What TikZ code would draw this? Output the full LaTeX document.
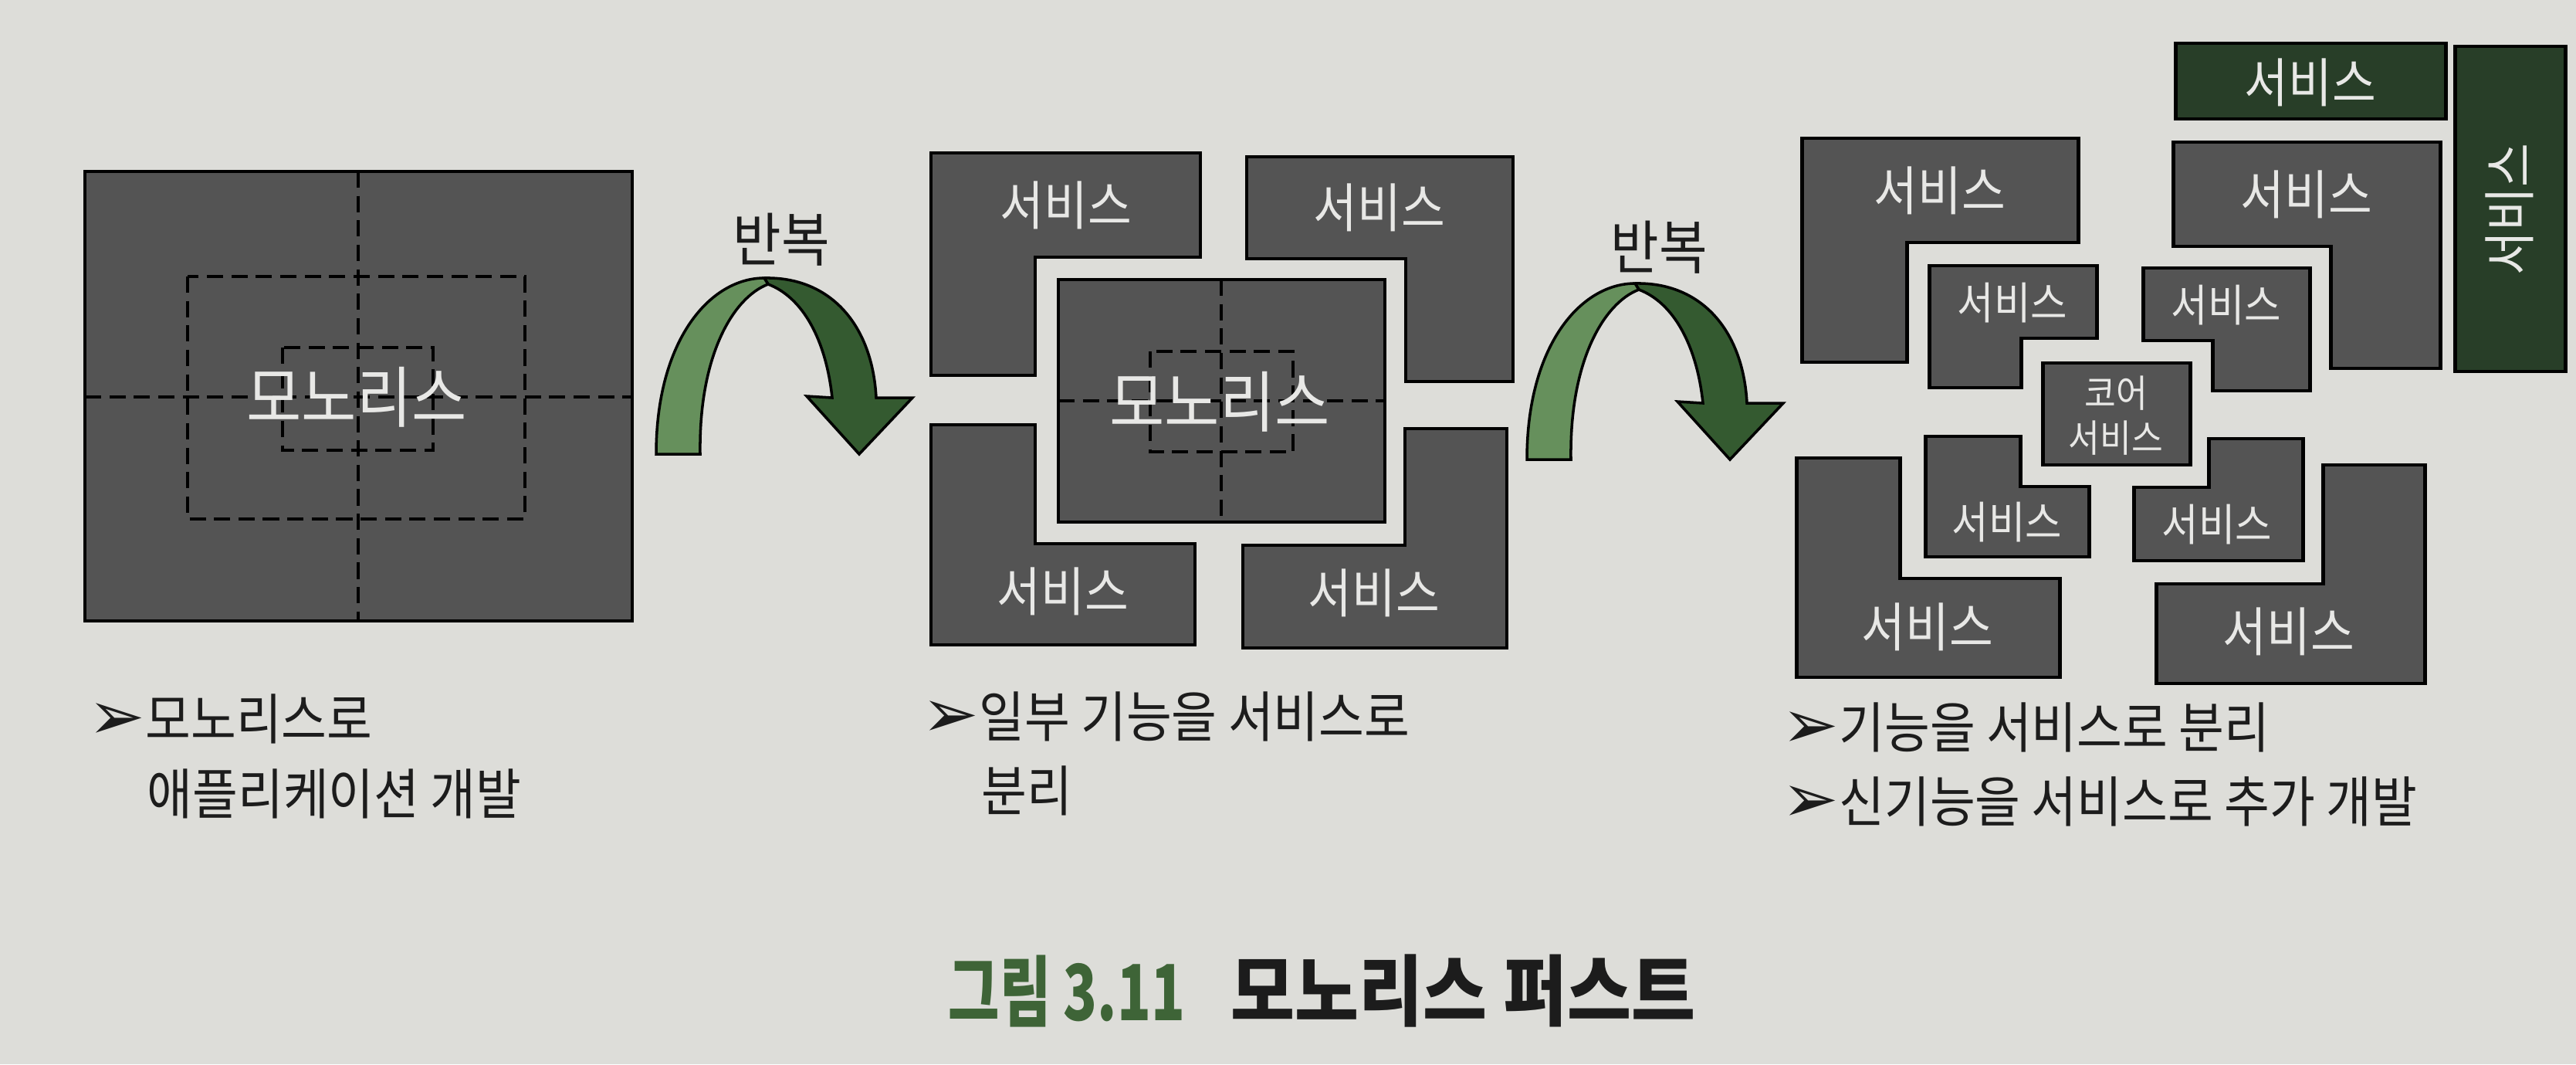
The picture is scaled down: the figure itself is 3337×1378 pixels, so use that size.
\documentclass[tikz,border=0pt]{standalone}
\usepackage{fontspec}
\setmainfont{Noto Sans CJK KR}[FakeStretch=0.9]
\newfontfamily\numfont{Noto Sans CJK KR}[FakeStretch=0.72]
\newfontfamily\symfont{DejaVu Sans}
\usepackage{tikz}

\definecolor{paper}{RGB}{221,221,217}
\definecolor{boxgray}{RGB}{84,84,84}
\definecolor{boxgreen}{RGB}{40,62,40}
\definecolor{boxtext}{RGB}{232,232,230}
\definecolor{arwlight}{RGB}{102,144,92}
\definecolor{arwdark}{RGB}{52,90,48}
\definecolor{capgreen}{RGB}{62,100,55}
\definecolor{ink}{RGB}{28,28,28}

\newcommand{\bul}{{\symfont\fontsize{25}{25}\selectfont ➢}}
\newcommand{\repeatarrow}[2]{%
\begin{scope}[shift={(#1,#2)}]
\filldraw[fill=arwdark,line width=1pt] (990,360) .. controls (1075,358) and (1130,420) .. (1135,515)
  -- (1182,515) -- (1113,588) -- (1045,513) -- (1078,515)
  .. controls (1070,440) and (1040,385) .. (995,368) -- cycle;
\filldraw[fill=arwlight,line width=1pt] (850,588) .. controls (850,440) and (920,360) .. (990,360)
  -- (995,368) .. controls (950,385) and (905,460) .. (907,588) -- cycle;
\end{scope}}

\tikzset{
  box/.style={draw=black,line width=1.4pt,fill=boxgray},
  gbox/.style={draw=black,line width=1.4pt,fill=boxgreen},
  cut/.style={draw=black,line width=1pt,dash pattern=on 6pt off 3pt},
  mono/.style={text=boxtext,inner sep=0pt,font=\fontsize{24.5}{28}\selectfont},
  svc/.style={text=boxtext,inner sep=0pt,font=\fontsize{19.5}{23}\selectfont},
  svcsmall/.style={text=boxtext,inner sep=0pt,font=\fontsize{16.3}{19}\selectfont},
  capt/.style={anchor=west,inner sep=0pt,text=ink,font=\fontsize{20.2}{24}\selectfont},
  reptext/.style={inner sep=0pt,text=ink,font=\fontsize{21.5}{25}\selectfont}
}

\begin{document}
\begin{tikzpicture}[x=0.01cm,y=-0.01cm]
\fill[paper] (0,0) rectangle (3337,1378);
\useasboundingbox (0,0) rectangle (3337,1378);

%monolith
\draw[box] (110,222) rectangle (819,804);
\draw[cut] (464,222) -- (464,804);
\draw[cut] (110,514) -- (819,514);
\draw[cut] (243,358) rectangle (680,672);
\draw[cut] (366,450) rectangle (561,583);
\node[mono] (mono1) at (462,514) {모노리스};
\node[capt] (cap1a) at (114,931) {\bul 모노리스로};
\node[capt] (cap1b) at (190,1028) {애플리케이션 개발};

%first iteration
\repeatarrow{0}{0}
\node[reptext] (rep1) at (1012,310) {반복};

%some services split off
\draw[box] (1206,198) -- (1555,198) -- (1555,333) -- (1341,333) -- (1341,486) -- (1206,486) -- cycle;
\draw[box] (1615,203) -- (1960,203) -- (1960,494) -- (1821,494) -- (1821,335) -- (1615,335) -- cycle;
\draw[box] (1206,550) -- (1341,550) -- (1341,704) -- (1548,704) -- (1548,835) -- (1206,835) -- cycle;
\draw[box] (1610,706) -- (1820,706) -- (1820,555) -- (1952,555) -- (1952,839) -- (1610,839) -- cycle;
\draw[box] (1371,362) rectangle (1794,676);
\draw[cut] (1582,362) -- (1582,676);
\draw[cut] (1371,519) -- (1794,519);
\draw[cut] (1490,455) rectangle (1675,585);
\node[svc] (svc2a) at (1381,266) {서비스};
\node[svc] (svc2b) at (1787,269) {서비스};
\node[svc] (svc2c) at (1377,766) {서비스};
\node[svc] (svc2d) at (1780,768) {서비스};
\node[mono] (mono2) at (1580,520) {모노리스};
\node[capt] (cap2a) at (1194,928) {\bul 일부 기능을 서비스로};
\node[capt] (cap2b) at (1271,1024) {분리};

%second iteration
\repeatarrow{1128}{7}
\node[reptext] (rep2) at (2149,320) {반복};

%services only
\draw[gbox] (2818,56) rectangle (3168,154);
\draw[gbox] (3180,60) rectangle (3323,481);
\draw[box] (2334,179) -- (2692,179) -- (2692,314) -- (2470,314) -- (2470,469) -- (2334,469) -- cycle;
\draw[box] (2815,184) -- (3161,184) -- (3161,477) -- (3019,477) -- (3019,319) -- (2815,319) -- cycle;
\draw[box] (2327,593) -- (2461,593) -- (2461,749) -- (2668,749) -- (2668,877) -- (2327,877) -- cycle;
\draw[box] (2793,756) -- (3009,756) -- (3009,602) -- (3141,602) -- (3141,885) -- (2793,885) -- cycle;
\draw[box] (2499,344) -- (2716,344) -- (2716,438) -- (2618,438) -- (2618,502) -- (2499,502) -- cycle;
\draw[box] (2776,347) -- (2992,347) -- (2992,506) -- (2866,506) -- (2866,441) -- (2776,441) -- cycle;
\draw[box] (2494,565) -- (2617,565) -- (2617,630) -- (2706,630) -- (2706,721) -- (2494,721) -- cycle;
\draw[box] (2764,631) -- (2861,631) -- (2861,568) -- (2983,568) -- (2983,726) -- (2764,726) -- cycle;
\draw[box] (2646,470) rectangle (2837,602);
\node[svc] (svc3new) at (2993,107) {서비스};
\node[svc,rotate=90] (svc3side) at (3251,271) {서비스};
\node[svc] (svc3a) at (2513,247) {서비스};
\node[svc] (svc3b) at (2988,252) {서비스};
\node[svc] (svc3c) at (2497,812) {서비스};
\node[svc] (svc3d) at (2965,818) {서비스};
\node[svcsmall] (svc3e) at (2607,392) {서비스};
\node[svcsmall] (svc3f) at (2884,395) {서비스};
\node[svcsmall] (svc3g) at (2600,676) {서비스};
\node[svcsmall] (svc3h) at (2872,679) {서비스};
\node[svcsmall,align=center,font=\fontsize{14}{16.5}\selectfont] (core) at (2741,538) {코어\\서비스};
\node[capt] (cap3a) at (2308,942) {\bul 기능을 서비스로 분리};
\node[capt] (cap3b) at (2308,1038) {\bul 신기능을 서비스로 추가 개발};

%figure caption
\node[anchor=west,inner sep=0pt,text=capgreen,font=\numfont\fontsize{28.5}{32}\selectfont\bfseries] (fignum) at (1228,1283) {그림 3.11};
\node[anchor=west,inner sep=0pt,text=ink,font=\fontsize{28.5}{32}\selectfont\bfseries] (figtitle) at (1594,1283) {모노리스 퍼스트};
\end{tikzpicture}
\end{document}
